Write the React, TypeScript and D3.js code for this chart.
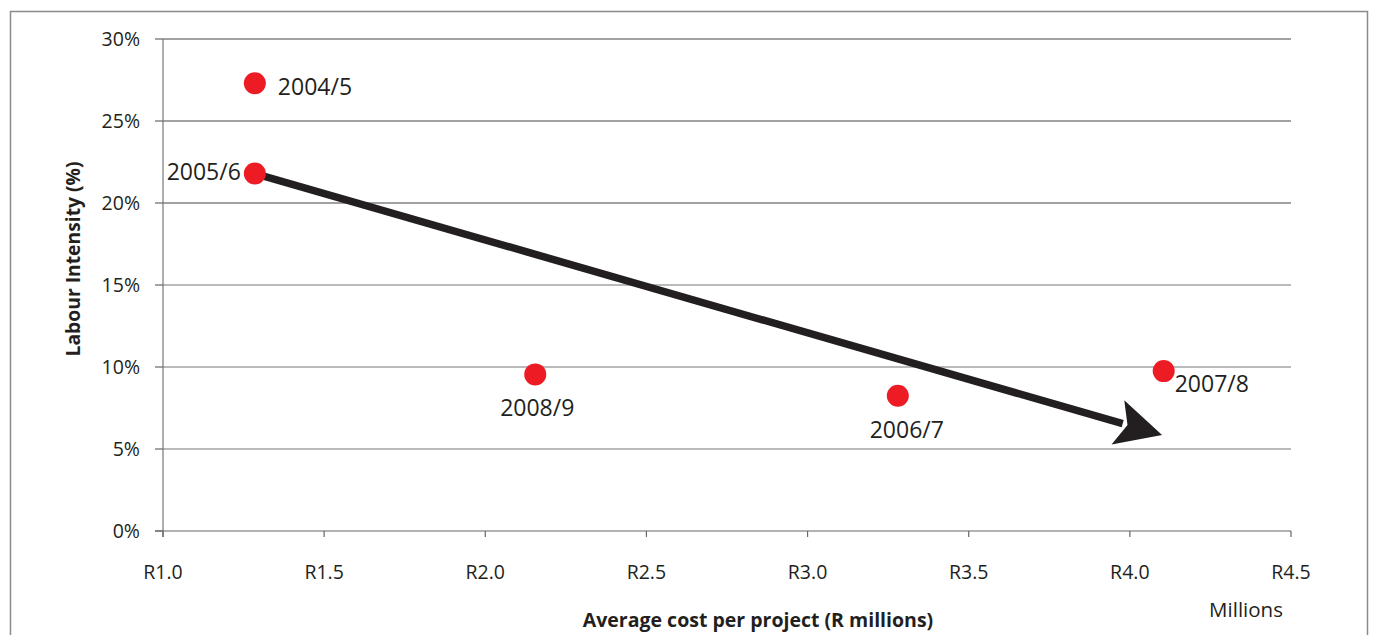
import React from "react";
import * as d3 from "d3";

const years = ["2004/5", "2005/6", "2008/9", "2006/7", "2007/8"];
const avgCost = [1.285, 1.285, 2.155, 3.28, 4.105];
const labourIntensity = [27.3, 21.8, 9.55, 8.25, 9.75];
const labelPos = ["right", "left", "below", "below", "right-below"];
const xTicks = [1.0, 1.5, 2.0, 2.5, 3.0, 3.5, 4.0, 4.5];
const yTicks = [0, 5, 10, 15, 20, 25, 30];
const trendFrom = [1.285, 21.8];
const trendTo = [4.1, 5.85];

const W = 1376;
const H = 635;
const FONT = "'Open Sans', 'Noto Sans', sans-serif";

export default function App() {
  const x = d3.scaleLinear().domain([1.0, 4.5]).range([163, 1291]);
  const y = d3.scaleLinear().domain([0, 30]).range([531, 39]);

  const x0 = x(trendFrom[0]);
  const y0 = y(trendFrom[1]);
  const x1 = x(trendTo[0]);
  const y1 = y(trendTo[1]);
  const ang = Math.atan2(y1 - y0, x1 - x0);
  const headLen = 46;
  const headHalf = 23;
  const bx = x1 - headLen * Math.cos(ang);
  const by = y1 - headLen * Math.sin(ang);
  const nx = -Math.sin(ang);
  const ny = Math.cos(ang);
  const notch = 10;
  const lx = x1 - (headLen - notch) * Math.cos(ang);
  const ly = y1 - (headLen - notch) * Math.sin(ang);
  const head = `M${x1},${y1} L${bx + nx * headHalf},${by + ny * headHalf} L${lx},${ly} L${bx - nx * headHalf},${by - ny * headHalf} Z`;

  return (
    <svg width={W} height={H} style={{ position: "absolute", left: 0, top: 0, display: "block" }}>
      <rect x={10.5} y={11.5} width={1357} height={640} fill="#fff" stroke="#8a8a8a" strokeWidth={1.5} />
      {yTicks.filter((t) => t > 0).map((t) => (
        <line key={"g" + t} x1={163} x2={1291} y1={y(t)} y2={y(t)} stroke={t === 25 || t === 20 || t === 30 ? "#444" : "#777"} strokeWidth={1.2} />
      ))}
      <line x1={163} x2={163} y1={y(30)} y2={y(0) + 6} stroke="#777" strokeWidth={1.2} />
      <line x1={155} x2={1291} y1={y(0)} y2={y(0)} stroke="#666" strokeWidth={1.2} />
      {yTicks.map((t) => (
        <g key={"yt" + t}>
          <line x1={155} x2={163} y1={y(t)} y2={y(t)} stroke="#666" strokeWidth={1.2} />
          <text x={140} y={y(t)} dy="0.35em" textAnchor="end" fontFamily={FONT} fontSize={19.5} fill="#231f20">
            {t + "%"}
          </text>
        </g>
      ))}
      {xTicks.map((t) => (
        <g key={"xt" + t}>
          <line x1={x(t)} x2={x(t)} y1={y(0)} y2={y(0) + 6} stroke="#666" strokeWidth={1.2} />
          <text x={x(t)} y={579} textAnchor="middle" fontFamily={FONT} fontSize={19.5} fill="#231f20">
            {"R" + t.toFixed(1)}
          </text>
        </g>
      ))}
      <text x={1246} y={617} textAnchor="middle" fontFamily={FONT} fontSize={20.5} fill="#231f20">Millions</text>
      <text x={758} y={627} textAnchor="middle" fontFamily={FONT} fontSize={19.5} fontWeight="bold" fill="#231f20">
        Average cost per project (R millions)
      </text>
      <text transform={`translate(80,259) rotate(-90)`} textAnchor="middle" fontFamily={FONT} fontSize={19.3} fontWeight="bold" fill="#231f20">
        Labour Intensity (%)
      </text>
      <line x1={x0} y1={y0} x2={(bx + lx) / 2} y2={(by + ly) / 2} stroke="#231f20" strokeWidth={7.5} />
      <path d={head} fill="#231f20" />
      {years.map((yr, i) => {
        const cx = x(avgCost[i]);
        const cy = y(labourIntensity[i]);
        const p = labelPos[i];
        let tx = cx, ty = cy, anchor = "middle";
        if (p === "right") { tx = cx + 23; ty = cy + 12; anchor = "start"; }
        else if (p === "left") { tx = cx - 14; ty = cy + 7; anchor = "end"; }
        else if (p === "below") { tx = cx + (i === 3 ? 9 : 2); ty = cy + 42; }
        else if (p === "right-below") { tx = cx + 11; ty = cy + 21; anchor = "start"; }
        return (
          <g key={yr}>
            <circle cx={cx} cy={cy} r={11} fill="#ed1c24" />
            <text x={tx} y={ty} textAnchor={anchor} fontFamily={FONT} fontSize={23} fill="#231f20">{yr}</text>
          </g>
        );
      })}
    </svg>
  );
}
